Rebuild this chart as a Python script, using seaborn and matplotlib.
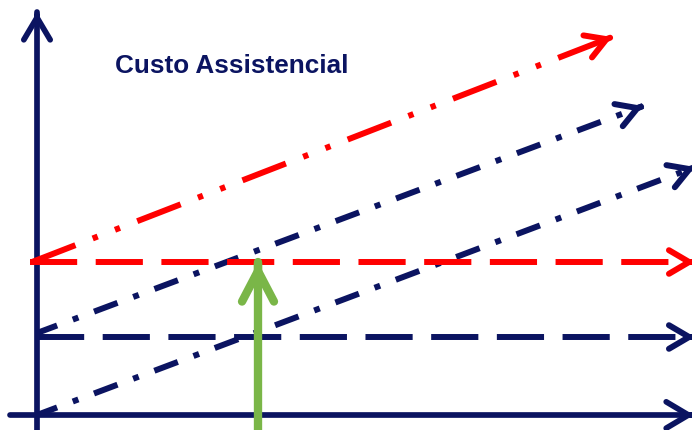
import numpy as np
import pandas as pd
import seaborn as sns
import matplotlib.pyplot as plt

sns.set_theme(style="white")
plt.rcParams['font.family'] = ['Liberation Sans', 'DejaVu Sans']

navy = '#0B1461'
red = '#FF0000'
green = '#7AB648'

title = "Custo Assistencial"

# diagram lines, start -> end (y measured upward)
line_names = ["custo_alto", "variavel_alto", "variavel_baixo", "fixo_alto", "fixo_baixo"]
x_start = [32, 37, 37, 30, 37]
y_start = [168, 97, 15, 168, 93]
x_end = [612, 643, 695, 695, 695]
y_end = [393, 324, 263, 168, 93]

# axes and the green marker
axis_x = [[10, 694], [37, 37]]
axis_y = [[15, 15], [0, 418]]
marker_x = [258, 258]
marker_y = [0, 168]

LW = 4.3
dash_dot = (0.6, (4.2, 2.8, 1.0, 2.8))
dash_dot_dot = (0, (7.8, 3.1, 0.9, 3.1, 0.9, 3.1))
dashed = (0, (7.9, 3.1))
line_colors = [red, navy, navy, red, navy]
line_styles = [dash_dot_dot, dash_dot, dash_dot, dashed, dashed]
line_z = [4, 3, 3, 4, 3]

fig = plt.figure(figsize=(6.92, 4.30), dpi=100)
ax = fig.add_axes([0, 0, 1, 1])
ax.set_xlim(0, 692)
ax.set_ylim(0, 430)
ax.axis('off')


def arrow_head(x0, y0, x1, y1, color, lw, hl=1.45, hw=0.85, z=5):
    d = np.array([x1 - x0, y1 - y0], dtype=float)
    d /= np.hypot(*d)
    ax.annotate('', xy=(x1, y1), xytext=(x1 - 2 * d[0], y1 - 2 * d[1]),
                arrowprops=dict(arrowstyle=f'->,head_length={hl},head_width={hw}',
                                color=color, lw=lw, shrinkA=0, shrinkB=0,
                                mutation_scale=10, capstyle='round',
                                joinstyle='miter'),
                zorder=z, annotation_clip=False)


# axes
for xs, ys in zip(axis_x, axis_y):
    sns.lineplot(x=xs, y=ys, ax=ax, color=navy, lw=4.1, estimator=None,
                 sort=False, zorder=2)
    arrow_head(xs[0], ys[0], xs[1], ys[1], navy, 4.1, hl=1.6, hw=0.95, z=2)

# cost lines
for i, name in enumerate(line_names):
    xs = [x_start[i], x_end[i]]
    ys = [y_start[i], y_end[i]]
    sns.lineplot(x=xs, y=ys, ax=ax, color=line_colors[i], lw=LW,
                 linestyle=line_styles[i], estimator=None, sort=False,
                 zorder=line_z[i])
    arrow_head(xs[0], ys[0], xs[1], ys[1], line_colors[i], LW, z=line_z[i])

# green marker arrow
sns.lineplot(x=marker_x, y=marker_y, ax=ax, color=green, lw=6,
             estimator=None, sort=False, zorder=6)
arrow_head(marker_x[0], marker_y[0], marker_x[1], marker_y[1], green, 6,
           hl=2.2, hw=1.15, z=6)

ax.text(115, 357, title, color=navy, fontsize=18.8, fontweight='bold',
        ha='left', va='baseline')

fig.savefig('out.png', dpi=100)
